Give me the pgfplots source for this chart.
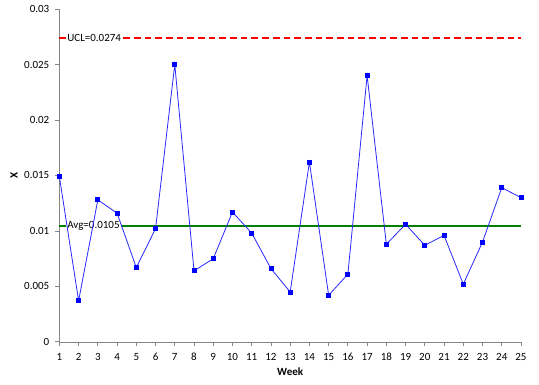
\documentclass[border=0pt]{standalone}
\usepackage{pgfplots}
\pgfplotsset{compat=1.18}
\usepackage{fontspec}
\setmainfont{Carlito}
\usetikzlibrary{calc}
\definecolor{axgray}{RGB}{134,134,134}
\definecolor{avggreen}{RGB}{0,128,0}
\definecolor{ucred}{RGB}{255,0,0}
\definecolor{linblue}{RGB}{40,40,255}
\begin{document}
\begin{tikzpicture}
\begin{axis}[
  scale only axis,
  width=346pt, height=249.5pt,
  xmin=1, xmax=25, ymin=0, ymax=0.03,
  xtick={1,...,25},
  ytick={0,0.005,0.01,0.015,0.02,0.025,0.03},
  yticklabels={0,0.005,0.01,0.015,0.02,0.025,0.03},
  axis lines=left,
  axis line style={axgray,-},
  tick style={axgray, line width=0.6pt},
  tick align=outside,
  major tick length=3pt,
  /pgf/number format/assume math mode=true,
  ticklabel style={font=\fontsize{8.25}{10}\selectfont, text=black},
  xticklabel style={yshift=-2pt},
  yticklabel style={xshift=-1pt},
  xlabel={\textbf{Week}},
  ylabel={\textbf{X}},
  xlabel style={font=\fontsize{8.25}{10}\selectfont, yshift=1.5pt},
  ylabel style={font=\fontsize{8.25}{10}\selectfont, yshift=-2pt},
  clip=false,
]
\addplot[avggreen, line width=1pt, mark=none] coordinates {(1,0.01045) (13,0.01045) (25,0.01045)};
\addplot[ucred, line width=1pt, mark=none, dash pattern=on 5pt off 3pt] coordinates {(1,0.0274) (13,0.0274) (25,0.0274)};
\node[anchor=west, fill=white, inner sep=1pt, font=\fontsize{8.25}{10}\selectfont] at (axis cs:1.33,0.0274) {UCL=0.0274};
\node[anchor=west, fill=white, inner sep=1pt, font=\fontsize{8.25}{10}\selectfont] at (axis cs:1.33,0.01045) {Avg=0.0105};
\addplot[linblue, line width=0.6pt, mark=square*, mark size=1.5pt, mark options={draw=blue, fill=blue}] coordinates {
(1,0.0149) (2,0.0037) (3,0.0128) (4,0.0116) (5,0.0067) (6,0.0102) (7,0.0250)
(8,0.0064) (9,0.0075) (10,0.0117) (11,0.0098) (12,0.0066) (13,0.0045)
(14,0.0162) (15,0.0042) (16,0.0061) (17,0.0240) (18,0.0088) (19,0.0106)
(20,0.0087) (21,0.0096) (22,0.0052) (23,0.0090) (24,0.0139) (25,0.0130)
};
\end{axis}
\pgfresetboundingbox
\path[use as bounding box] ($(current axis.south west)+(-44.5pt,-32.25pt)$) rectangle ($(current axis.north east)+(13.5pt,6.75pt)$);
\end{tikzpicture}
\end{document}
